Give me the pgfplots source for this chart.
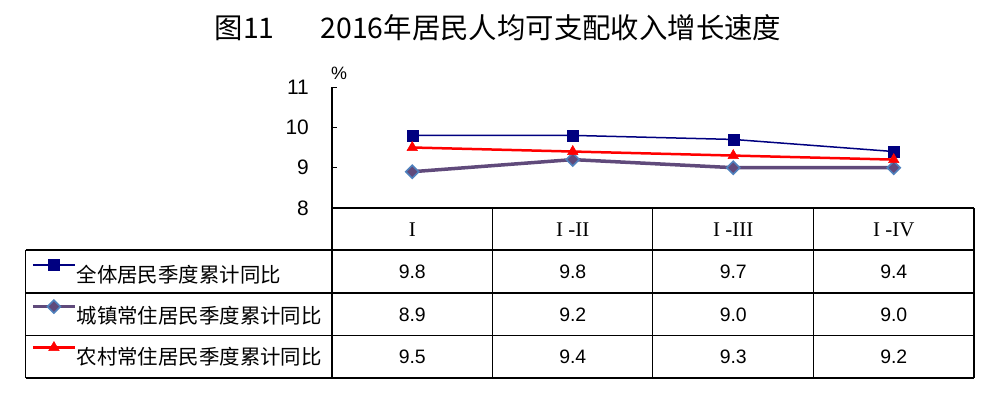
\documentclass[border=0pt]{standalone}
\usepackage{pgfplots}
\pgfplotsset{compat=1.18}
\usepackage{fontspec}
\setmainfont{Liberation Sans}
\newfontfamily\cjk{Noto Sans CJK SC}
\newfontfamily\serif{Liberation Serif}
\definecolor{navyc}{RGB}{0,0,128}
\definecolor{purp}{RGB}{96,74,123}
\definecolor{bluec}{RGB}{79,129,189}
\begin{document}
\begin{tikzpicture}[x=1bp,y=1bp]
\path[use as bounding box] (0,0) rectangle (988,392);
\node[font=\cjk\fontsize{28.5}{31}\selectfont, anchor=center] at (498,364) {图11\hspace{46bp}2016年居民人均可支配收入增长速度};
\begin{axis}[
  at={(332bp,184bp)}, anchor=south west,
  scale only axis, width=642bp, height=121bp,
  xmin=-0.5, xmax=3.5, ymin=8, ymax=11,
  clip=false,
  axis x line*=bottom, axis y line*=left,
  axis line style={-, line width=1.3bp, black},
  xtick={0,1,2,3},
  xticklabels={I,I -II,I -III,I -IV},
  major x tick style={draw=none},
  xticklabel style={font=\serif\fontsize{21}{24}\selectfont, anchor=center, yshift=-21.7bp},
  ytick={8,9,10,11},
  tick align=inside, major tick length=5bp,
  y tick style={black, line width=1bp},
  yticklabel style={font=\fontsize{21}{24}\selectfont, anchor=east, inner sep=0pt, xshift=-23bp},
  /pgf/number format/assume math mode=true,
  legend cell align=left,
  legend style={at={(axis description cs:-0.46885,-0.4256)}, anchor=north west, draw=none, fill=none, inner sep=0pt, row sep=12.9bp,
    nodes={inner sep=0pt, text height=15bp, text depth=5bp, font=\cjk\fontsize{20.5}{24}\selectfont},
    /tikz/every even column/.append style={column sep=0bp}},
  legend image code/.code={\draw[mark repeat=2,mark phase=2,#1] plot coordinates {(0bp,12bp) (21bp,12bp) (42bp,12bp)};},
]
\addplot[color=navyc, line width=1.5bp, mark=square*, mark size=5.5bp, mark options={solid, fill=navyc, draw=navyc, line width=0.5bp}]
  coordinates {(0,9.8) (1,9.8) (2,9.7) (3,9.4)};
\addlegendentry{全体居民季度累计同比}
\addplot[color=purp, line width=3.5bp, mark=square*, mark size=4.6bp, mark options={solid, rotate=45, fill=purp, draw=bluec, line width=1.6bp}]
  coordinates {(0,8.9) (1,9.2) (2,9.0) (3,9.0)};
\addlegendentry{城镇常住居民季度累计同比}
\addplot[color=red, line width=2.5bp, mark=triangle*, mark size=6bp, mark options={solid, fill=red, draw=red, line width=0.5bp}]
  coordinates {(0,9.5) (1,9.4) (2,9.3) (3,9.2)};
\addlegendentry{农村常住居民季度累计同比}
\node[font=\fontsize{18}{20}\selectfont] at (rel axis cs:0,1) [xshift=7bp, yshift=14bp] {\%};
% table values
\node[font=\fontsize{19.5}{22}\selectfont] at (axis cs:0,8) [yshift=-64bp] {9.8};
\node[font=\fontsize{19.5}{22}\selectfont] at (axis cs:1,8) [yshift=-64bp] {9.8};
\node[font=\fontsize{19.5}{22}\selectfont] at (axis cs:2,8) [yshift=-64bp] {9.7};
\node[font=\fontsize{19.5}{22}\selectfont] at (axis cs:3,8) [yshift=-64bp] {9.4};
\node[font=\fontsize{19.5}{22}\selectfont] at (axis cs:0,8) [yshift=-106.5bp] {8.9};
\node[font=\fontsize{19.5}{22}\selectfont] at (axis cs:1,8) [yshift=-106.5bp] {9.2};
\node[font=\fontsize{19.5}{22}\selectfont] at (axis cs:2,8) [yshift=-106.5bp] {9.0};
\node[font=\fontsize{19.5}{22}\selectfont] at (axis cs:3,8) [yshift=-106.5bp] {9.0};
\node[font=\fontsize{19.5}{22}\selectfont] at (axis cs:0,8) [yshift=-149bp] {9.5};
\node[font=\fontsize{19.5}{22}\selectfont] at (axis cs:1,8) [yshift=-149bp] {9.4};
\node[font=\fontsize{19.5}{22}\selectfont] at (axis cs:2,8) [yshift=-149bp] {9.3};
\node[font=\fontsize{19.5}{22}\selectfont] at (axis cs:3,8) [yshift=-149bp] {9.2};
\end{axis}
% table grid
\begin{scope}[line width=1.3bp, black]
\draw (332,184) -- (332,14);
\draw (974,184) -- (974,14);
\draw (492.5,184) -- (492.5,14);
\draw (652.5,184) -- (652.5,14);
\draw (813.5,184) -- (813.5,14);
\draw (25.7,142) -- (974,142);
\draw (25.7,99) -- (974,99);
\draw (25.7,56.5) -- (974,56.5);
\draw (25.7,14) -- (974,14);
\draw (25.7,142) -- (25.7,14);
\end{scope}
\end{tikzpicture}
\end{document}
